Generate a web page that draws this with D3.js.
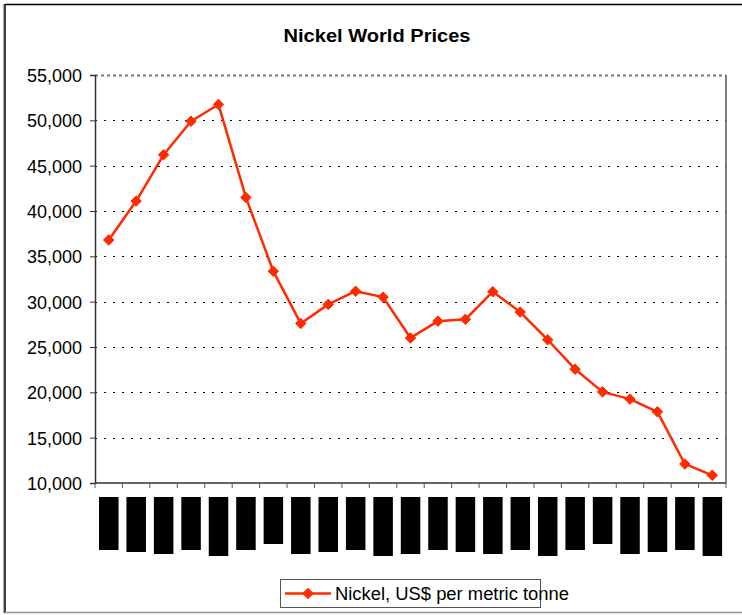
<!DOCTYPE html>
<html>
<head>
<meta charset="utf-8">
<script src="https://cdn.jsdelivr.net/npm/d3@7"></script>
<style>
  body { margin: 0; background: #fff; }
  svg { display: block; }
  text { font-family: "Liberation Sans", Arial, sans-serif; fill: #000; }
</style>
</head>
<body>
<svg id="chart" width="742" height="615"></svg>
<script>
// ---- data ----
const title = "Nickel World Prices";
const seriesName = "Nickel, US$ per metric tonne";
const categories = d3.range(1, 24).map(String); // 23 periods (labels obscured in source)
const nickel = [36800, 41100, 46200, 49900, 51750, 41500, 33350, 27600, 29700, 31150,
                30500, 26000, 27850, 28050, 31100, 28850, 25800, 22550, 20050, 19250,
                17850, 12100, 10850];
const yTicks = [10000, 15000, 20000, 25000, 30000, 35000, 40000, 45000, 50000, 55000];
// obscured category labels (drawn as black blocks of their text length)
const labelLengths = [53, 55, 57, 53, 59, 53, 47, 57, 55, 53, 59, 57, 53, 55, 57, 53, 59, 53, 47, 57, 55, 53, 59];

// ---- layout ----
const svg = d3.select("#chart");
const plot = { left: 95, top: 75, right: 726, bottom: 483 };
const red = "#ff2a00";

// outer chart border
svg.append("line").attr("x1", 5).attr("x2", 742).attr("y1", 4.5).attr("y2", 4.5)
  .attr("stroke", "#000").attr("stroke-width", 1.5);
svg.append("line").attr("x1", 5).attr("x2", 5).attr("y1", 4).attr("y2", 613)
  .attr("stroke", "#000").attr("stroke-width", 1.5);
svg.append("line").attr("x1", 3.5).attr("x2", 3.5).attr("y1", 4).attr("y2", 613)
  .attr("stroke", "#aaa").attr("stroke-width", 1);
svg.append("line").attr("x1", 5).attr("x2", 742).attr("y1", 612.5).attr("y2", 612.5)
  .attr("stroke", "#999").attr("stroke-width", 1.5);

const x = d3.scaleBand().domain(categories).range([plot.left, plot.right]).padding(0);
const y = d3.scaleLinear().domain([10000, 55000]).range([plot.bottom, plot.top]);

// title
svg.append("text").attr("x", 377).attr("y", 42).attr("text-anchor", "middle")
  .attr("font-size", 18).attr("font-weight", "bold")
  .attr("textLength", 187).attr("lengthAdjust", "spacingAndGlyphs")
  .text(title);

// gridlines
svg.append("g").selectAll("line").data(yTicks.filter(t => t > 10000))
  .join("line")
  .attr("x1", plot.left).attr("x2", plot.right)
  .attr("y1", d => Math.round(y(d)) + 0.5).attr("y2", d => Math.round(y(d)) + 0.5)
  .attr("stroke", d => d === 55000 ? "#777" : "#000")
  .attr("stroke-width", d => d === 55000 ? 2 : 1)
  .attr("stroke-dasharray", d => d === 55000 ? "3,3" : "2,7");

// right border of plot area
svg.append("line").attr("x1", plot.right).attr("x2", plot.right)
  .attr("y1", plot.top).attr("y2", plot.bottom)
  .attr("stroke", "#555").attr("stroke-width", 1.5);

// y axis
const yAxis = d3.axisLeft(y).tickValues(yTicks).tickSize(5).tickPadding(8)
  .tickFormat(d3.format(","));
const gy = svg.append("g").attr("transform", `translate(${plot.left},0)`).call(yAxis);
gy.select(".domain").attr("stroke", "#333").attr("stroke-width", 1.5);
gy.selectAll(".tick line").attr("stroke", "#333");
gy.selectAll(".tick text").attr("font-size", 18).attr("fill", "#000")
  .attr("font-family", "Liberation Sans, Arial, sans-serif").attr("dy", "0.36em");

// x axis with ticks between categories
const gx = svg.append("g").attr("transform", `translate(0,${plot.bottom})`);
gx.append("line").attr("x1", plot.left).attr("x2", plot.right)
  .attr("stroke", "#333").attr("stroke-width", 1.5);
gx.selectAll(".xt").data(categories.concat(["end"]))
  .join("line").attr("class", "xt")
  .attr("x1", (d, i) => i < categories.length ? x(d) : plot.right)
  .attr("x2", (d, i) => i < categories.length ? x(d) : plot.right)
  .attr("y1", 0).attr("y2", 5).attr("stroke", "#555");

// obscured category labels
svg.append("g").selectAll("rect").data(categories)
  .join("rect")
  .attr("x", d => x(d) + x.bandwidth() / 2 - 9.7)
  .attr("y", 497)
  .attr("width", 19.5)
  .attr("height", (d, i) => labelLengths[i])
  .attr("fill", "#000");

// line
const line = d3.line().x((d, i) => x(categories[i]) + x.bandwidth() / 2).y(d => y(d));
svg.append("path").datum(nickel).attr("d", line)
  .attr("fill", "none").attr("stroke", red).attr("stroke-width", 2.5)
  .attr("stroke-linejoin", "round");

const diamond = d3.symbol().type(d3.symbolDiamond2).size(70);
svg.append("g").selectAll("path").data(nickel).join("path")
  .attr("transform", (d, i) => `translate(${x(categories[i]) + x.bandwidth() / 2},${y(d)})`)
  .attr("d", diamond).attr("fill", red).attr("stroke", red).attr("stroke-width", 1);

// legend
const lg = svg.append("g");
lg.append("rect").attr("x", 280.5).attr("y", 579.5).attr("width", 260).attr("height", 28)
  .attr("fill", "none").attr("stroke", "#555").attr("stroke-width", 1);
lg.append("line").attr("x1", 285).attr("x2", 331).attr("y1", 593.5).attr("y2", 593.5)
  .attr("stroke", red).attr("stroke-width", 2.5);
lg.append("path").attr("transform", "translate(308,593.5)").attr("d", diamond)
  .attr("fill", red).attr("stroke", red);
lg.append("text").attr("x", 335).attr("y", 600).attr("font-size", 18)
  .attr("textLength", 234).attr("lengthAdjust", "spacingAndGlyphs")
  .text(seriesName);
</script>
</body>
</html>
